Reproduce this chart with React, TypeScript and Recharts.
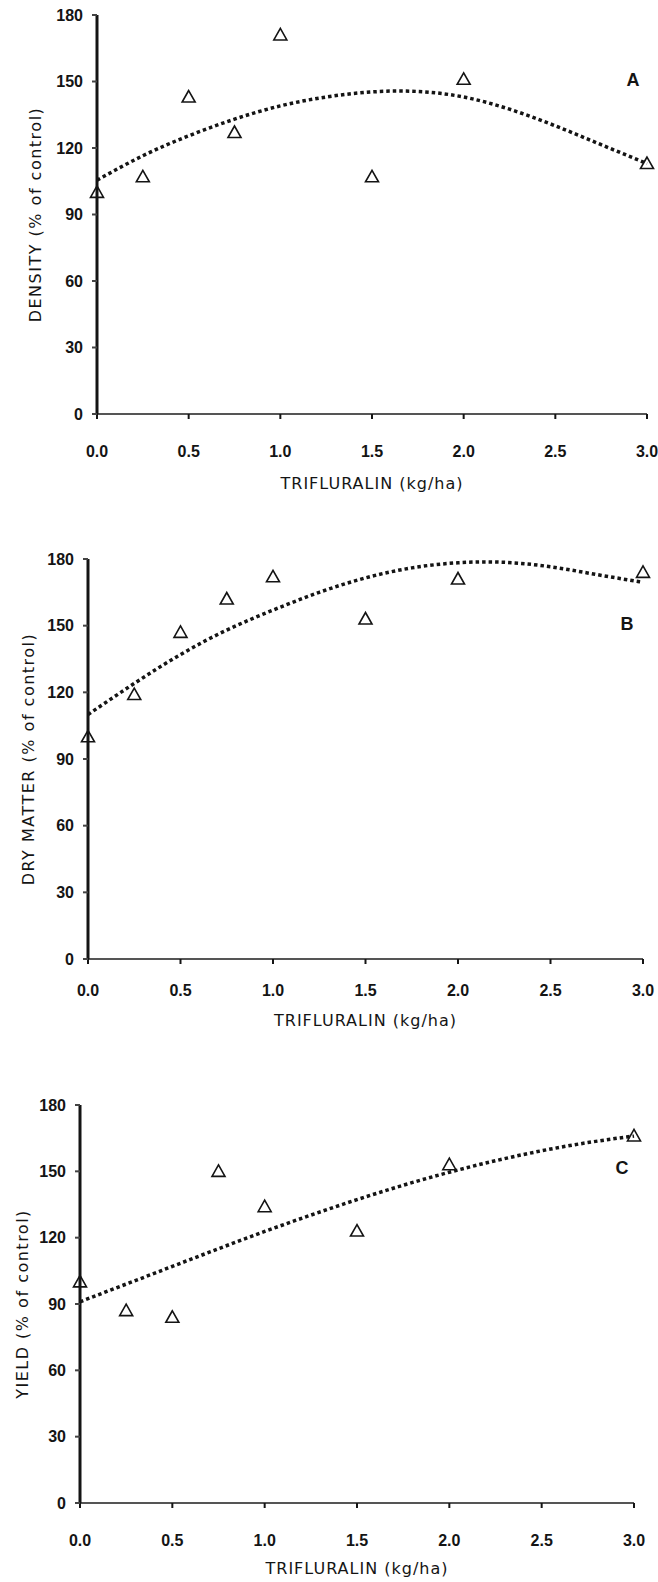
import type { JSX } from "react";
import { ComposedChart, Line, Scatter, XAxis, YAxis } from "recharts";

// ─── data ────────────────────────────────────────────────────────────────────

const doses = [0, 0.25, 0.5, 0.75, 1.0, 1.5, 2.0, 3.0];
const densityObs = [100, 107, 143, 127, 171, 107, 151, 113];
const dryMatterObs = [100, 119, 147, 162, 172, 153, 171, 174];
const yieldObs = [100, 87, 84, 150, 134, 123, 153, 166];

// fitted (dashed) curves, sampled every 0.25 kg/ha
const fitDoses = [0, 0.25, 0.5, 0.75, 1.0, 1.25, 1.5, 1.75, 2.0, 2.25, 2.5, 2.75, 3.0];
const densityFit = [105.5, 116.5, 125.5, 133, 139, 143, 145.3, 145.5, 143, 137.5, 130, 121.5, 113];
const dryMatterFit = [110, 124, 137, 148, 157, 165, 171.5, 176, 178.3, 178.5, 176.5, 173, 169.5];
const yieldFit = [91, 99, 107, 115, 122.8, 130.2, 137.2, 143.7, 149.6, 154.8, 159.3, 163, 166];

const xTicks = [0, 0.5, 1.0, 1.5, 2.0, 2.5, 3.0];
const yTicks = [0, 30, 60, 90, 120, 150, 180];
const xTitle = "TRIFLURALIN (kg/ha)";

const TICK_FONT = "Arial, 'Liberation Sans', sans-serif";
const TITLE_FONT = "'DejaVu Sans', Arial, sans-serif";
const INK = "#141414";
const CHART_W = 658;
const Y_AXIS_W = 60;
const X_AXIS_H = 80;

const toPts = (xs: number[], ys: number[]) => xs.map((x, i) => ({ x, y: ys[i] }));

// open triangle marker
function Triangle(props: any): JSX.Element {
  const { cx, cy } = props;
  return (
    <polygon
      points={`${cx},${cy - 6.5} ${cx - 6.5},${cy + 5} ${cx + 6.5},${cy + 5}`}
      fill="none"
      stroke={INK}
      strokeWidth={1.6}
    />
  );
}

interface PanelProps {
  top: number;
  left: number;
  right: number;
  plotTop: number;
  plotBottom: number;
  obs: number[];
  fit: number[];
  yTitle: string;
  yTitleX: number;
  xTickMargin: number;
  xTitleY: number;
  letter: string;
  letterX: number;
  letterY: number;
}

function Panel(p: PanelProps): JSX.Element {
  const height = p.plotBottom - p.top + X_AXIS_H;
  const yMid = (p.plotTop + p.plotBottom) / 2 - p.top;
  const xMid = (p.left + p.right) / 2;
  const titleY = p.xTitleY - p.top;

  return (
    <div style={{ position: "absolute", left: 0, top: p.top, width: CHART_W, height }}>
      <ComposedChart
        width={CHART_W}
        height={height}
        style={{ overflow: "visible" }}
        margin={{ top: p.plotTop - p.top, right: CHART_W - p.right, bottom: 0, left: p.left - Y_AXIS_W }}
      >
        <XAxis
          dataKey="x"
          type="number"
          domain={[0, 3]}
          ticks={xTicks}
          tickFormatter={(v: number) => v.toFixed(1)}
          height={X_AXIS_H}
          tickSize={5}
          tickMargin={p.xTickMargin}
          axisLine={{ stroke: "#555", strokeWidth: 2.2 }}
          tickLine={{ stroke: INK, strokeWidth: 2 }}
          tick={{ fontSize: 16, fontWeight: 700, fill: INK, fontFamily: TICK_FONT }}
          label={{
            content: () => (
              <text
                x={xMid}
                y={titleY}
                textAnchor="middle"
                dominantBaseline="central"
                fontSize={16}
                letterSpacing={1}
                fill={INK}
                fontFamily={TITLE_FONT}
              >
                {xTitle}
              </text>
            ),
          }}
        />
        <YAxis
          dataKey="y"
          type="number"
          domain={[0, 180]}
          ticks={yTicks}
          width={Y_AXIS_W}
          tickSize={5}
          tickMargin={9}
          axisLine={{ stroke: INK, strokeWidth: 3 }}
          tickLine={{ stroke: "#444", strokeWidth: 2 }}
          tick={{ fontSize: 16, fontWeight: 700, fill: INK, fontFamily: TICK_FONT }}
          label={{
            content: () => (
              <text
                x={p.yTitleX}
                y={yMid}
                transform={`rotate(-90 ${p.yTitleX} ${yMid})`}
                textAnchor="middle"
                dominantBaseline="central"
                fontSize={16}
                letterSpacing={1.5}
                fill={INK}
                fontFamily={TITLE_FONT}
              >
                {p.yTitle}
              </text>
            ),
          }}
        />
        <Line
          data={toPts(fitDoses, p.fit)}
          dataKey="y"
          type="natural"
          stroke={INK}
          strokeWidth={3.5}
          strokeDasharray="3.5 3"
          dot={false}
          activeDot={false}
          isAnimationActive={false}
        />
        <Scatter data={toPts(doses, p.obs)} dataKey="y" shape={Triangle} isAnimationActive={false} />
      </ComposedChart>
      <div
        style={{
          position: "absolute",
          left: p.letterX - 10,
          top: p.letterY - p.top - 11,
          width: 20,
          textAlign: "center",
          fontFamily: TICK_FONT,
          fontWeight: 700,
          fontSize: 18,
          lineHeight: "22px",
          color: INK,
        }}
      >
        {p.letter}
      </div>
    </div>
  );
}

export default function App(): JSX.Element {
  return (
    <div style={{ position: "absolute", left: 0, top: 0, width: CHART_W, height: 1582 }}>
      <Panel
        top={0}
        left={97}
        right={647}
        plotTop={15}
        plotBottom={414}
        obs={densityObs}
        fit={densityFit}
        yTitle="DENSITY (% of control)"
        yTitleX={35}
        xTickMargin={27}
        xTitleY={483}
        letter="A"
        letterX={633}
        letterY={80}
      />
      <Panel
        top={540}
        left={88}
        right={643}
        plotTop={559}
        plotBottom={959}
        obs={dryMatterObs}
        fit={dryMatterFit}
        yTitle="DRY MATTER (% of control)"
        yTitleX={28}
        xTickMargin={21}
        xTitleY={1020}
        letter="B"
        letterX={627}
        letterY={624}
      />
      <Panel
        top={1085}
        left={80}
        right={634}
        plotTop={1105}
        plotBottom={1503}
        obs={yieldObs}
        fit={yieldFit}
        yTitle="YIELD (% of control)"
        yTitleX={22}
        xTickMargin={27}
        xTitleY={1568}
        letter="C"
        letterX={622}
        letterY={1168}
      />
    </div>
  );
}
